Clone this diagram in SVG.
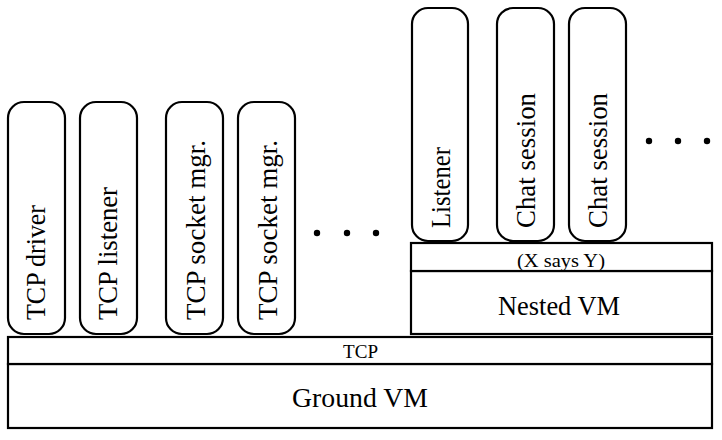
<svg xmlns="http://www.w3.org/2000/svg" width="722" height="440" viewBox="0 0 722 440">
<style>
.box{fill:#fff;stroke:#000;stroke-width:2.2}
.pill{fill:#fff;stroke:#000;stroke-width:2.2}
.t{font-family:"Times New Roman","Liberation Serif",Tinos,"Nimbus Roman","DejaVu Serif",serif;fill:#000}
.v{font-size:28px}
.dot{fill:#000}
</style>
<rect width="722" height="440" fill="#fff"/>
<g id="ground-vm"><rect class="box" x="8" y="364" width="704" height="64"/><text class="t" x="360" y="407" font-size="28" text-anchor="middle" textLength="136" lengthAdjust="spacingAndGlyphs">Ground VM</text></g>
<g id="tcp"><rect class="box" x="8" y="337" width="704" height="27"/><text class="t" x="360.5" y="358" font-size="19" text-anchor="middle" textLength="35" lengthAdjust="spacingAndGlyphs">TCP</text></g>
<g id="nested-vm"><rect class="box" x="411" y="271" width="301" height="63"/><text class="t" x="559" y="315" font-size="27" text-anchor="middle" textLength="122" lengthAdjust="spacingAndGlyphs">Nested VM</text></g>
<g id="x-says-y"><rect class="box" x="411" y="243" width="301" height="28"/><text class="t" x="561" y="267" font-size="19" text-anchor="middle" textLength="88" lengthAdjust="spacingAndGlyphs">(X says Y)</text></g>
<g id="tcp-driver"><rect class="pill" x="8" y="102" width="57" height="232" rx="16"/><text class="t v" transform="translate(45,320) rotate(-90)" textLength="115" lengthAdjust="spacingAndGlyphs">TCP driver</text></g>
<g id="tcp-listener"><rect class="pill" x="80" y="102" width="57" height="232" rx="16"/><text class="t v" transform="translate(117,320) rotate(-90)" textLength="133" lengthAdjust="spacingAndGlyphs">TCP listener</text></g>
<g id="tcp-socket-mgr-1"><rect class="pill" x="166" y="102" width="57" height="232" rx="16"/><text class="t v" transform="translate(205,320) rotate(-90)" textLength="180" lengthAdjust="spacingAndGlyphs">TCP socket mgr.</text></g>
<g id="tcp-socket-mgr-2"><rect class="pill" x="238" y="102" width="57" height="232" rx="16"/><text class="t v" transform="translate(277,320) rotate(-90)" textLength="180" lengthAdjust="spacingAndGlyphs">TCP socket mgr.</text></g>
<g id="dots-left"><circle class="dot" cx="317" cy="233" r="3.2"/><circle class="dot" cx="347" cy="233" r="3.2"/><circle class="dot" cx="376" cy="233" r="3.2"/></g>
<g id="listener"><rect class="pill" x="412" y="8" width="56" height="233" rx="16"/><text class="t v" transform="translate(450,228) rotate(-90)" textLength="81" lengthAdjust="spacingAndGlyphs">Listener</text></g>
<g id="chat-session-1"><rect class="pill" x="497" y="8" width="57" height="233" rx="16"/><text class="t v" transform="translate(535,228) rotate(-90)" textLength="135" lengthAdjust="spacingAndGlyphs">Chat session</text></g>
<g id="chat-session-2"><rect class="pill" x="569" y="8" width="57" height="233" rx="16"/><text class="t v" transform="translate(607,228) rotate(-90)" textLength="135" lengthAdjust="spacingAndGlyphs">Chat session</text></g>
<g id="dots-right"><circle class="dot" cx="649" cy="141" r="3.2"/><circle class="dot" cx="678" cy="141" r="3.2"/><circle class="dot" cx="707" cy="141" r="3.2"/></g>
<g id="connectors"></g>
</svg>
